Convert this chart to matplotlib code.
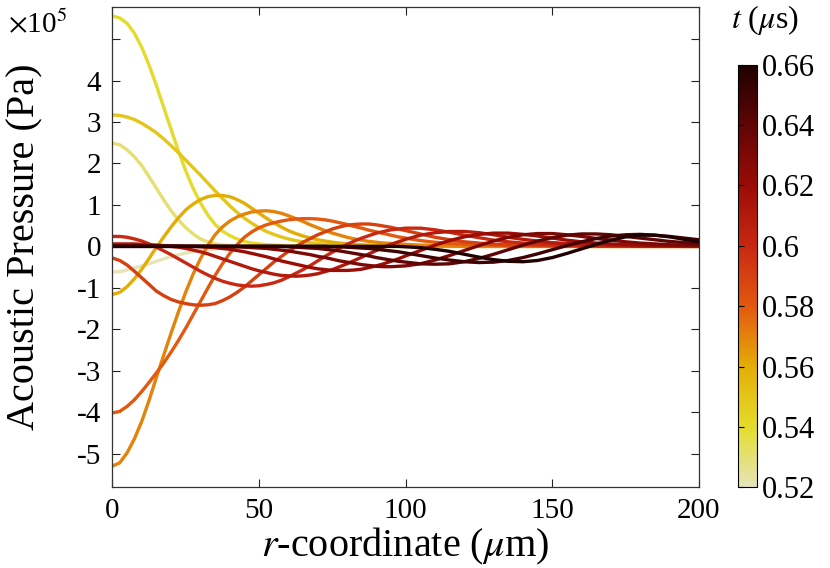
import matplotlib
matplotlib.use("Agg")
import matplotlib.pyplot as plt
from matplotlib.colors import LinearSegmentedColormap, Normalize
from matplotlib.cm import ScalarMappable

plt.rcParams['font.family'] = ['Liberation Serif', 'DejaVu Serif']
plt.rcParams['mathtext.fontset'] = 'stix'

# radial positions (um): 2.5 um steps up to 100, then 5 um steps
r_um = [0, 2.5, 5, 7.5, 10, 12.5, 15, 17.5, 20, 22.5, 25, 27.5, 30, 32.5, 35, 37.5, 40, 42.5, 45, 47.5,
        50, 52.5, 55, 57.5, 60, 62.5, 65, 67.5, 70, 72.5, 75, 77.5, 80, 82.5, 85, 87.5, 90, 92.5, 95, 97.5, 100,
        105, 110, 115, 120, 125, 130, 135, 140, 145, 150, 155, 160, 165, 170, 175, 180, 185, 190, 195, 200]

times_us = [0.52, 0.53, 0.54, 0.55, 0.56, 0.57, 0.58, 0.59, 0.60, 0.61, 0.62, 0.63, 0.64, 0.65, 0.66]

# acoustic pressure (x1e5 Pa), one list per time
p_052 = [-0.62, -0.61, -0.57, -0.52, -0.47, -0.42, -0.36, -0.30, -0.25, -0.20, -0.16, -0.13, -0.10, -0.08, -0.06, -0.04, -0.03, -0.02, -0.01, -0.01,
         0, 0, 0, 0, 0, 0, 0, 0, 0, 0, 0, 0, 0, 0, 0, 0, 0, 0, 0, 0, 0,
         0, 0, 0, 0, 0, 0, 0, 0, 0, 0, 0, 0, 0, 0, 0, 0, 0, 0, 0, 0]
p_053 = [2.49, 2.45, 2.33, 2.16, 1.95, 1.68, 1.40, 1.12, 0.86, 0.64, 0.45, 0.30, 0.18, 0.11, 0.06, 0.03, 0.02, 0.01, 0.01, 0,
         0, 0, 0, 0, 0, 0, 0, 0, 0, 0, 0, 0, 0, 0, 0, 0, 0, 0, 0, 0, 0,
         0, 0, 0, 0, 0, 0, 0, 0, 0, 0, 0, 0, 0, 0, 0, 0, 0, 0, 0, 0]
p_054 = [5.56, 5.51, 5.38, 5.14, 4.80, 4.37, 3.88, 3.35, 2.82, 2.30, 1.82, 1.40, 1.05, 0.76, 0.53, 0.37, 0.26, 0.18, 0.12, 0.08,
         0.06, 0.04, 0.03, 0.02, 0.02, 0.01, 0.01, 0, 0, 0, 0, 0, 0, 0, 0, 0, 0, 0, 0, 0, 0,
         0, 0, 0, 0, 0, 0, 0, 0, 0, 0, 0, 0, 0, 0, 0, 0, 0, 0, 0, 0]
p_055 = [3.17, 3.16, 3.12, 3.06, 2.97, 2.86, 2.74, 2.59, 2.43, 2.26, 2.08, 1.90, 1.72, 1.53, 1.34, 1.16, 0.98, 0.82, 0.68, 0.56,
         0.45, 0.36, 0.29, 0.23, 0.18, 0.14, 0.11, 0.09, 0.07, 0.05, 0.04, 0.03, 0.02, 0.02, 0.01, 0.01, 0, 0, 0, 0, 0,
         0, 0, 0, 0, 0, 0, 0, 0, 0, 0, 0, 0, 0, 0, 0, 0, 0, 0, 0, 0]
p_056 = [-1.16, -1.11, -0.97, -0.78, -0.55, -0.29, -0.02, 0.23, 0.47, 0.69, 0.88, 1.02, 1.13, 1.20, 1.23, 1.23, 1.20, 1.13, 1.04, 0.92,
         0.80, 0.68, 0.57, 0.47, 0.38, 0.31, 0.25, 0.20, 0.16, 0.13, 0.10, 0.08, 0.06, 0.05, 0.04, 0.03, 0.02, 0.02, 0.01, 0.01, 0,
         0, 0, 0, 0, 0, 0, 0, 0, 0, 0, 0, 0, 0, 0, 0, 0, 0, 0, 0, 0]
p_057 = [-5.30, -5.22, -4.98, -4.64, -4.22, -3.71, -3.16, -2.62, -2.09, -1.58, -1.10, -0.67, -0.30, 0.02, 0.28, 0.47, 0.61, 0.71, 0.78, 0.83,
         0.85, 0.86, 0.84, 0.80, 0.74, 0.67, 0.60, 0.52, 0.45, 0.38, 0.32, 0.27, 0.22, 0.18, 0.15, 0.12, 0.10, 0.08, 0.07, 0.06, 0.05,
         0.03, 0.02, 0.01, 0, 0, 0, 0, 0, 0, 0, 0, 0, 0, 0, 0, 0, 0, 0, 0, 0]
p_058 = [-4.02, -3.98, -3.86, -3.70, -3.50, -3.28, -3.05, -2.81, -2.55, -2.27, -1.97, -1.65, -1.33, -1.01, -0.70, -0.42, -0.17, 0.04, 0.22, 0.35,
         0.45, 0.52, 0.57, 0.61, 0.64, 0.66, 0.67, 0.67, 0.66, 0.64, 0.61, 0.57, 0.53, 0.48, 0.44, 0.39, 0.35, 0.31, 0.27, 0.23, 0.20,
         0.14, 0.10, 0.07, 0.05, 0.04, 0.03, 0.02, 0.02, 0.01, 0.01, 0.01, 0, 0, 0, 0, 0, 0, 0, 0, 0]
p_059 = [-0.28, -0.34, -0.45, -0.60, -0.76, -0.92, -1.08, -1.19, -1.28, -1.34, -1.38, -1.41, -1.42, -1.41, -1.38, -1.31, -1.22, -1.11, -0.98, -0.83,
         -0.68, -0.53, -0.38, -0.25, -0.12, -0.01, 0.10, 0.19, 0.28, 0.35, 0.42, 0.47, 0.51, 0.53, 0.54, 0.54, 0.52, 0.49, 0.46, 0.42, 0.38,
         0.30, 0.22, 0.16, 0.11, 0.08, 0.05, 0.04, 0.03, 0.02, 0.02, 0.01, 0.01, 0.01, 0, 0, 0, 0, 0, 0, 0]
p_060 = [0.24, 0.24, 0.22, 0.18, 0.13, 0.06, -0.02, -0.11, -0.20, -0.30, -0.40, -0.50, -0.60, -0.69, -0.77, -0.84, -0.89, -0.93, -0.95, -0.96,
         -0.95, -0.92, -0.88, -0.82, -0.74, -0.65, -0.56, -0.46, -0.35, -0.24, -0.14, -0.04, 0.05, 0.13, 0.20, 0.26, 0.32, 0.36, 0.40, 0.42, 0.44,
         0.44, 0.40, 0.34, 0.27, 0.21, 0.15, 0.11, 0.08, 0.06, 0.04, 0.03, 0.02, 0.01, 0.01, 0.01, 0, 0, 0, 0, 0]
p_061 = [0.06, 0.06, 0.06, 0.06, 0.05, 0.04, 0.03, 0.02, 0.00, -0.02, -0.05, -0.09, -0.13, -0.18, -0.24, -0.30, -0.36, -0.42, -0.48, -0.54,
         -0.59, -0.63, -0.67, -0.70, -0.71, -0.72, -0.71, -0.69, -0.66, -0.61, -0.56, -0.49, -0.42, -0.34, -0.26, -0.18, -0.10, -0.02, 0.05, 0.11, 0.17,
         0.27, 0.33, 0.36, 0.36, 0.33, 0.28, 0.22, 0.17, 0.13, 0.09, 0.07, 0.05, 0.04, 0.03, 0.02, 0.01, 0.01, 0.01, 0, 0]
p_062 = [0.02, 0.02, 0.02, 0.02, 0.02, 0.02, 0.02, 0.01, 0.01, 0.01, 0.00, 0.00, -0.01, -0.02, -0.03, -0.05, -0.07, -0.10, -0.13, -0.17,
         -0.21, -0.25, -0.30, -0.35, -0.39, -0.43, -0.47, -0.51, -0.54, -0.56, -0.58, -0.58, -0.58, -0.57, -0.55, -0.51, -0.47, -0.42, -0.36, -0.30, -0.23,
         -0.10, 0.03, 0.14, 0.23, 0.29, 0.32, 0.32, 0.29, 0.25, 0.20, 0.15, 0.11, 0.08, 0.06, 0.04, 0.03, 0.02, 0.02, 0.01, 0.01]
p_063 = [0, 0, 0, 0, 0, 0, 0, 0, 0, 0, 0, 0, 0, 0, 0, -0.01, -0.01, -0.01, -0.02, -0.03,
         -0.04, -0.05, -0.07, -0.09, -0.11, -0.14, -0.17, -0.20, -0.24, -0.27, -0.31, -0.35, -0.38, -0.41, -0.44, -0.46, -0.48, -0.49, -0.49, -0.48, -0.47,
         -0.42, -0.33, -0.22, -0.10, 0.02, 0.13, 0.22, 0.28, 0.31, 0.31, 0.28, 0.24, 0.19, 0.15, 0.11, 0.08, 0.06, 0.04, 0.03, 0.02]
p_064 = [0, 0, 0, 0, 0, 0, 0, 0, 0, 0, 0, 0, 0, 0, 0, 0, 0, 0, 0, 0,
         0, 0, 0, 0, -0.01, -0.02, -0.03, -0.04, -0.05, -0.07, -0.09, -0.11, -0.14, -0.17, -0.20, -0.23, -0.27, -0.30, -0.33, -0.36, -0.38,
         -0.42, -0.43, -0.42, -0.37, -0.29, -0.19, -0.08, 0.03, 0.13, 0.21, 0.27, 0.30, 0.30, 0.28, 0.24, 0.20, 0.16, 0.12, 0.09, 0.07]
p_065 = [0, 0, 0, 0, 0, 0, 0, 0, 0, 0, 0, 0, 0, 0, 0, 0, 0, 0, 0, 0,
         0, 0, 0, 0, 0, 0, 0, 0, 0, 0, -0.01, -0.01, -0.02, -0.03, -0.04, -0.05, -0.07, -0.09, -0.11, -0.13, -0.16,
         -0.22, -0.28, -0.33, -0.37, -0.39, -0.38, -0.34, -0.27, -0.18, -0.08, 0.02, 0.11, 0.19, 0.25, 0.28, 0.29, 0.27, 0.24, 0.20, 0.16]
p_066 = [0, 0, 0, 0, 0, 0, 0, 0, 0, 0, 0, 0, 0, 0, 0, 0, 0, 0, 0, 0,
         0, 0, 0, 0, 0, 0, 0, 0, 0, 0, 0, 0, 0, 0, 0, 0, 0, 0, 0, 0, -0.01,
         -0.03, -0.07, -0.12, -0.19, -0.26, -0.32, -0.36, -0.37, -0.34, -0.27, -0.17, -0.06, 0.05, 0.15, 0.23, 0.27, 0.27, 0.23, 0.17, 0.11]

series = [p_052, p_053, p_054, p_055, p_056, p_057, p_058, p_059, p_060,
          p_061, p_062, p_063, p_064, p_065, p_066]

ytick_vals = [-5, -4, -3, -2, -1, 0, 1, 2, 3, 4, 5]
ytick_labels = ['-5', '-4', '-3', '-2', '-1', '0', '1', '2', '3', '4', '']
xtick_vals = [0, 50, 100, 150, 200]
cbar_ticks = [0.52, 0.54, 0.56, 0.58, 0.60, 0.62, 0.64, 0.66]
cbar_labels = ['0.52', '0.54', '0.56', '0.58', '0.6', '0.62', '0.64', '0.66']

cmap = LinearSegmentedColormap.from_list('tcmap', [
    (0.00, '#e6e4b8'),
    (0.143, '#e4dc2a'),
    (0.286, '#e4ad06'),
    (0.429, '#e2580f'),
    (0.571, '#c92812'),
    (0.714, '#9c0c06'),
    (0.857, '#600505'),
    (1.00, '#200000'),
])
norm = Normalize(vmin=0.52, vmax=0.66)

fig = plt.figure(figsize=(8.3, 5.68), dpi=100)
ax = fig.add_axes([0.1355, 0.143, 0.7065, 0.845])

for t, p in zip(times_us, series):
    ax.plot(r_um, p, color=cmap(norm(t)), lw=2.4, solid_capstyle='round', solid_joinstyle='round')

ax.set_xlim(0, 200)
ax.set_ylim(-5.8, 5.78)
ax.set_xticks(xtick_vals)
ax.set_xticklabels([str(v) for v in xtick_vals])
ax.set_yticks(ytick_vals)
ax.set_yticklabels(ytick_labels)
ax.tick_params(direction='in', length=6, width=0.8, top=True, right=True,
               labelsize=21, pad=8, colors='#222222', labelcolor='black')
for s in ax.spines.values():
    s.set_linewidth(0.9)
    s.set_color('#333333')

ax.set_xlabel(r'$r$-coordinate ($\mu$m)', fontsize=29)
ax.xaxis.set_label_coords(0.5, -0.082)
ax.set_ylabel('Acoustic Pressure (Pa)', fontsize=29)
ax.yaxis.set_label_coords(-0.118, 0.5)
fig.text(0.010, 0.944, r'$\times$10$^5$', fontsize=21, ha='left', va='baseline')

cax = fig.add_axes([0.8895, 0.142, 0.0222, 0.744])
sm = ScalarMappable(norm=norm, cmap=cmap)
cb = fig.colorbar(sm, cax=cax, ticks=cbar_ticks)
cb.ax.set_yticklabels(cbar_labels)
cb.outline.set_linewidth(0.8)
cb.ax.tick_params(direction='in', length=4, width=0.8, left=True, right=False,
                  labelleft=False, labelright=True, labelsize=22, pad=4)
fig.text(0.922, 0.965, r'$t$ ($\mu$s)', fontsize=23, ha='center', va='center')

fig.savefig('out.png', dpi=100)
